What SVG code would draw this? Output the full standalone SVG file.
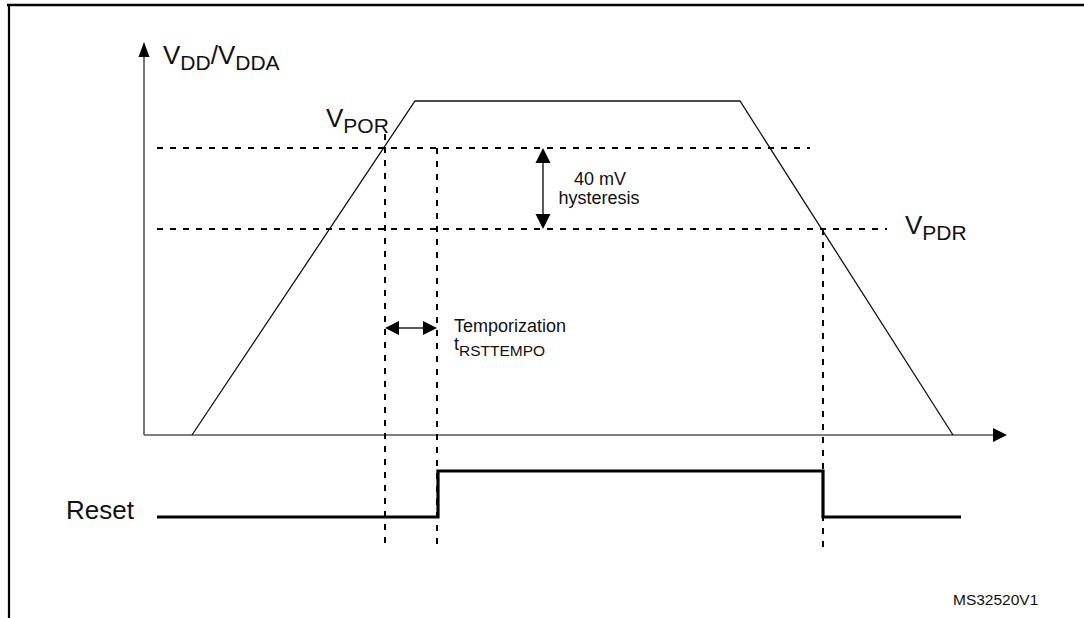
<svg xmlns="http://www.w3.org/2000/svg" width="1084" height="618" viewBox="0 0 1084 618">
<style>
.lbl{font-family:"Liberation Sans",Arial,sans-serif;fill:#111}
.axis{stroke:#555;stroke-width:1.6;fill:none}
.curve{stroke:#111;stroke-width:1.3;fill:none}
.dash{stroke:#000;stroke-width:2;stroke-dasharray:6 7;fill:none}
.sig{stroke:#000;stroke-width:3.2;fill:none}
.thin{stroke:#000;stroke-width:1.3;fill:none}
.head{fill:#000;stroke:none}
</style>
<rect width="1084" height="618" fill="#fff"/>
<g id="frame">
<line x1="7" y1="5" x2="1084" y2="5" stroke="#000" stroke-width="2.4"/>
<line x1="9" y1="5" x2="9" y2="618" stroke="#000" stroke-width="2.2"/>
</g>
<g id="axes">
<line class="axis" x1="144" y1="56" x2="144" y2="435"/>
<polygon class="head" points="144,42 138.5,57 149.5,57"/>
<line class="axis" x1="144" y1="435" x2="994" y2="435"/>
<polygon class="head" points="1007,435 993,428 993,442"/>
</g>
<g id="vdd-curve">
<polyline class="curve" points="192,435 415,101 740,101 953,435"/>
</g>
<g id="connectors">
<line class="dash" x1="157" y1="148" x2="810" y2="148"/>
<line class="dash" x1="157" y1="229" x2="887" y2="229"/>
<line class="dash" x1="385" y1="134" x2="385" y2="546"/>
<line class="dash" x1="437" y1="148" x2="437" y2="550"/>
<line class="dash" x1="823" y1="229" x2="823" y2="547"/>
<line class="thin" x1="543" y1="160" x2="543" y2="217"/>
<polygon class="head" points="543,148 535.5,163 550.5,163"/>
<polygon class="head" points="543,229 535.5,214 550.5,214"/>
<line class="thin" x1="396" y1="328" x2="426" y2="328"/>
<polygon class="head" points="385,328 399,321 399,335"/>
<polygon class="head" points="437,328 423,321 423,335"/>
</g>
<g id="reset-signal">
<polyline class="sig" points="157,517 438,517 438,471 823,471 823,517 961,517"/>
</g>
<g id="label-vdd">
<text class="lbl" x="163" y="64" font-size="26">V<tspan font-size="21" dy="6">DD</tspan><tspan dy="-6">/V</tspan><tspan font-size="21" dy="6">DDA</tspan></text>
</g>
<g id="label-vpor">
<text class="lbl" x="326" y="127" font-size="26">V<tspan font-size="21" dy="6">POR</tspan></text>
</g>
<g id="label-vpdr">
<text class="lbl" x="905" y="234" font-size="26">V<tspan font-size="21" dy="6">PDR</tspan></text>
</g>
<g id="label-hysteresis">
<text class="lbl" x="600" y="185" font-size="18" text-anchor="middle">40 mV</text>
<text class="lbl" x="599" y="204" font-size="18" text-anchor="middle">hysteresis</text>
</g>
<g id="label-temporization">
<text class="lbl" x="454" y="332" font-size="18">Temporization</text>
<text class="lbl" x="454" y="350" font-size="18">t<tspan font-size="15.5" dy="6">RSTTEMPO</tspan></text>
</g>
<g id="label-reset">
<text class="lbl" x="66" y="519" font-size="26">Reset</text>
</g>
<g id="label-id">
<text class="lbl" x="953" y="605" font-size="15.5" fill="#222">MS32520V1</text>
</g>
</svg>
